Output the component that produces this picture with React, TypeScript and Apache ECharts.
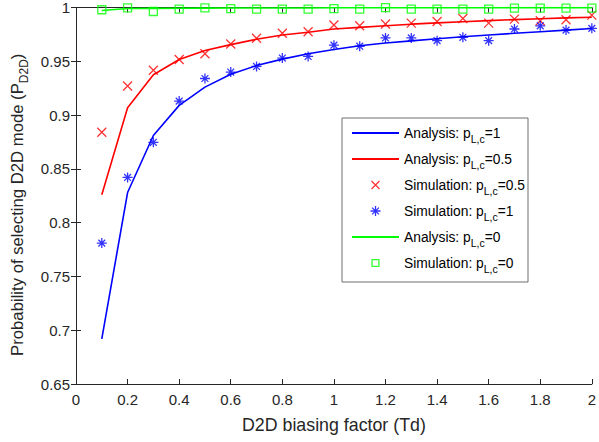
import React, { useEffect, useRef } from "react";
import * as echarts from "echarts";

const td = [0.1, 0.2, 0.3, 0.4, 0.5, 0.6, 0.7, 0.8, 0.9, 1.0, 1.1, 1.2, 1.3, 1.4, 1.5, 1.6, 1.7, 1.8, 1.9, 2.0];

const analysisP1 = [0.692, 0.828, 0.881, 0.909, 0.926, 0.938, 0.946, 0.952, 0.957, 0.961, 0.9645, 0.967, 0.969, 0.971, 0.9728, 0.9745, 0.976, 0.9775, 0.979, 0.9805];
const analysisP05 = [0.826, 0.9068, 0.9375, 0.9517, 0.96, 0.9655, 0.9705, 0.9745, 0.977, 0.98, 0.9815, 0.983, 0.9845, 0.9857, 0.9868, 0.9878, 0.9887, 0.9896, 0.9904, 0.991];
const analysisP0 = [0.9972, 0.9991, 0.9992, 0.9993, 0.9994, 0.9995, 0.9995, 0.9996, 0.9996, 0.9997, 0.9997, 0.9997, 0.9998, 0.9998, 0.9998, 0.9998, 0.9999, 0.9999, 0.9999, 0.9999];
const simP1 = [0.781, 0.842, 0.8747, 0.913, 0.934, 0.94, 0.9452, 0.953, 0.9545, 0.965, 0.964, 0.9717, 0.9717, 0.9692, 0.9723, 0.9692, 0.98, 0.983, 0.979, 0.9806];
const simP05 = [0.884, 0.927, 0.9416, 0.9517, 0.957, 0.966, 0.9714, 0.976, 0.9775, 0.9837, 0.983, 0.9846, 0.9855, 0.987, 0.9898, 0.9855, 0.9892, 0.9877, 0.9886, 0.9929];
const simP0 = [0.9979, 0.9997, 0.9963, 0.9985, 0.9997, 0.999, 0.9985, 0.9985, 0.9985, 0.999, 0.9985, 0.9999, 0.9985, 0.9985, 0.9985, 0.9985, 0.9994, 0.9994, 0.9994, 0.9994];

const legendLabels = [
  { name: "Analysis: pL,c=1", pre: "Analysis: p", val: "=1", kind: "line" },
  { name: "Analysis: pL,c=0.5", pre: "Analysis: p", val: "=0.5", kind: "line" },
  { name: "Simulation: pL,c=0.5", pre: "Simulation: p", val: "=0.5", kind: "x" },
  { name: "Simulation: pL,c=1", pre: "Simulation: p", val: "=1", kind: "star" },
  { name: "Analysis: pL,c=0", pre: "Analysis: p", val: "=0", kind: "line" },
  { name: "Simulation: pL,c=0", pre: "Simulation: p", val: "=0", kind: "square" },
];

const BLUE = "#0000ff";
const RED = "#ff0000";
const GREEN = "#00ff00";
const AX = "#262626";
const FONT = "'Liberation Sans', Arial, Helvetica, sans-serif";

const X_PATH = "path://M0,0 L10,10 M10,0 L0,10";
const STAR_PATH = "path://M5,0 L5,10 M0,5 L10,5 M1.6,1.6 L8.4,8.4 M8.4,1.6 L1.6,8.4";
const SQUARE_PATH = "path://M0,0 L10,0 L10,10 L0,10 Z";
const LEGEND_SQUARE = "path://M0,0 M1.6,1.6 L8.4,1.6 L8.4,8.4 L1.6,8.4 Z M10,10";
const LEGEND_X = "path://M0,0 M1,1 L9,9 M9,1 L1,9 M10,10";

const pairs = (ys: number[]) => td.map((x, i) => [x, ys[i]]);

export default function App() {
  const ref = useRef<HTMLDivElement>(null);
  useEffect(() => {
    if (!ref.current) return;
    const chart = echarts.init(ref.current, undefined, { renderer: "svg" });
    const lineSeries = (name: string, ys: number[], color: string) => ({
      name,
      type: "line",
      data: pairs(ys),
      symbol: "none",
      color,
      lineStyle: { color, width: 1.6 },
      itemStyle: { color },
      z: 2,
    });
    const scatterSeries = (name: string, ys: number[], color: string, symbol: string, size: number, fill: string) => ({
      name,
      type: "scatter",
      data: pairs(ys),
      symbol,
      symbolSize: size,
      symbolKeepAspect: true,
      color,
      itemStyle: { color: fill, borderColor: color, borderWidth: 1.3 },
      z: 3,
    });
    const axisCommon = {
      axisLine: { show: true, lineStyle: { color: AX, width: 1 } },
      axisTick: { show: true, inside: true, length: 5, lineStyle: { color: AX } },
      splitLine: { show: false },
    };
    const legendData = legendLabels.map((l) => {
      if (l.kind === "line")
        return { name: l.name, itemStyle: { color: "transparent", borderColor: "transparent", borderWidth: 0 } };
      if (l.kind === "square") return { name: l.name, icon: LEGEND_SQUARE };
      if (l.kind === "x") return { name: l.name, icon: LEGEND_X };
      return { name: l.name };
    });
    const option: any = {
      animation: false,
      grid: { left: 76, right: 2, top: 5, bottom: 58, containLabel: false },
      xAxis: [
        {
          type: "value",
          min: 0,
          max: 2,
          interval: 0.2,
          position: "bottom",
          ...axisCommon,
          axisLabel: { color: AX, fontSize: 15, fontFamily: FONT, margin: 8 },
          name: "D2D biasing factor (Td)",
          nameLocation: "middle",
          nameGap: 32,
          nameTextStyle: { color: AX, fontSize: 17.8, fontFamily: FONT },
        },
        {
          type: "value",
          min: 0,
          max: 2,
          interval: 0.2,
          position: "top",
          ...axisCommon,
          axisLabel: { show: false },
        },
      ],
      yAxis: [
        {
          type: "value",
          min: 0.65,
          max: 1,
          interval: 0.05,
          position: "left",
          ...axisCommon,
          axisLabel: { color: AX, fontSize: 15, fontFamily: FONT, margin: 6 },
          name: "{t|Probability of selecting D2D mode (P}{s|D2D}{t|)}",
          nameLocation: "middle",
          nameRotate: 90,
          nameGap: 46,
          nameTextStyle: {
            color: AX,
            fontFamily: FONT,
            padding: [0, 18, 0, 0],
            rich: {
              t: { fontSize: 16.7, fontFamily: FONT, color: AX, lineHeight: 24, verticalAlign: "middle" },
              s: { fontSize: 12, fontFamily: FONT, color: AX, lineHeight: 12, verticalAlign: "bottom" },
            },
          },
        },
        {
          type: "value",
          min: 0.65,
          max: 1,
          interval: 0.05,
          position: "right",
          ...axisCommon,
          axisLabel: { show: false },
        },
      ],
      legend: {
        orient: "vertical",
        left: 342,
        top: 118,
        padding: [8, 3, 8, 9],
        itemGap: 8,
        itemWidth: 47,
        itemHeight: 10,
        backgroundColor: "#ffffff",
        borderColor: "#6e6e6e",
        borderWidth: 1,
        borderRadius: 0,
        selectedMode: false,
        itemStyle: { borderWidth: 1.3 },
        data: legendData,
        formatter: (name: string) => {
          const l = legendLabels.find((d) => d.name === name);
          if (!l) return name;
          return `{t|${l.pre}}{s|L,c}{t|${l.val}}`;
        },
        textStyle: {
          color: "#000",
          fontFamily: FONT,
          fontSize: 13.8,
          rich: {
            t: { fontSize: 13.8, fontFamily: FONT, color: "#000", lineHeight: 22, verticalAlign: "middle" },
            s: { fontSize: 10.5, fontFamily: FONT, color: "#000", lineHeight: 10, verticalAlign: "bottom" },
          },
        },
      },
      series: [
        lineSeries(legendLabels[0].name, analysisP1, BLUE),
        lineSeries(legendLabels[1].name, analysisP05, RED),
        scatterSeries(legendLabels[2].name, simP05, RED, X_PATH, 9, RED),
        scatterSeries(legendLabels[3].name, simP1, BLUE, STAR_PATH, 10, BLUE),
        lineSeries(legendLabels[4].name, analysisP0, GREEN),
        scatterSeries(legendLabels[5].name, simP0, GREEN, SQUARE_PATH, 8, "transparent"),
      ],
    };
    chart.setOption(option);
    return () => chart.dispose();
  }, []);
  return (
    <div
      ref={ref}
      style={{ width: 599, height: 442, position: "absolute", left: 0, top: 0, background: "#fff" }}
    />
  );
}
